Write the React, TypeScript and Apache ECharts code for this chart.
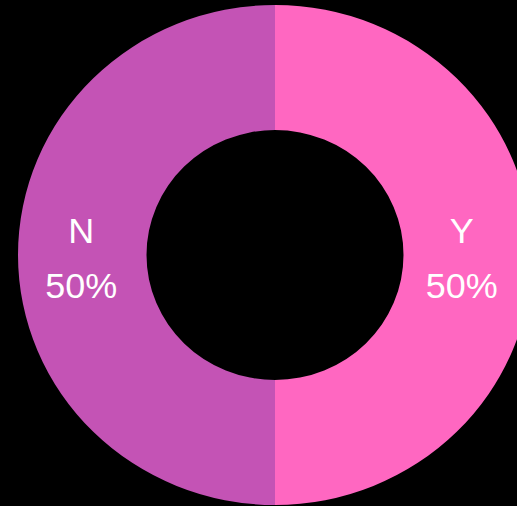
import React, { useEffect, useRef } from "react";
import * as echarts from "echarts";

const categories = ["Y", "N"];
const values = [50, 50];
const colors = ["#FF67C1", "#C453B5"];

const STRETCH = 1.028;
const W = 517;
const H = 506;

export default function App() {
  const ref = useRef<HTMLDivElement>(null);
  useEffect(() => {
    document.body.style.margin = "0";
    document.body.style.background = "#000";
    const chart = echarts.init(ref.current!, null, { renderer: "svg" });
    chart.setOption({
      animation: false,
      backgroundColor: "#000000",
      series: [
        {
          type: "pie",
          center: [275 / STRETCH, 255],
          radius: [125, 250],
          startAngle: 90,
          clockwise: true,
          label: {
            show: true,
            position: "inside",
            color: "#ffffff",
            fontFamily: "Liberation Sans, Arial, sans-serif",
            fontSize: 35,
            lineHeight: 55,
            formatter: "{b}\n{d}%",
          },
          labelLayout: (p: any) =>
            p.dataIndex === 0 ? { dx: -9 / STRETCH, dy: 4 } : { dx: 2 / STRETCH, dy: 4 },
          labelLine: { show: false },
          itemStyle: { borderWidth: 0 },
          emphasis: { disabled: true },
          data: categories.map((c, i) => ({
            name: c,
            value: values[i],
            itemStyle: { color: colors[i] },
          })),
        },
      ],
    });
    return () => chart.dispose();
  }, []);
  return (
    <div style={{ position: "fixed", left: 0, top: 0, width: W, height: H, overflow: "hidden", background: "#000" }}>
      <div
        ref={ref}
        style={{
          width: W / STRETCH,
          height: H,
          transform: `scaleX(${STRETCH})`,
          transformOrigin: "0 0",
        }}
      />
    </div>
  );
}
